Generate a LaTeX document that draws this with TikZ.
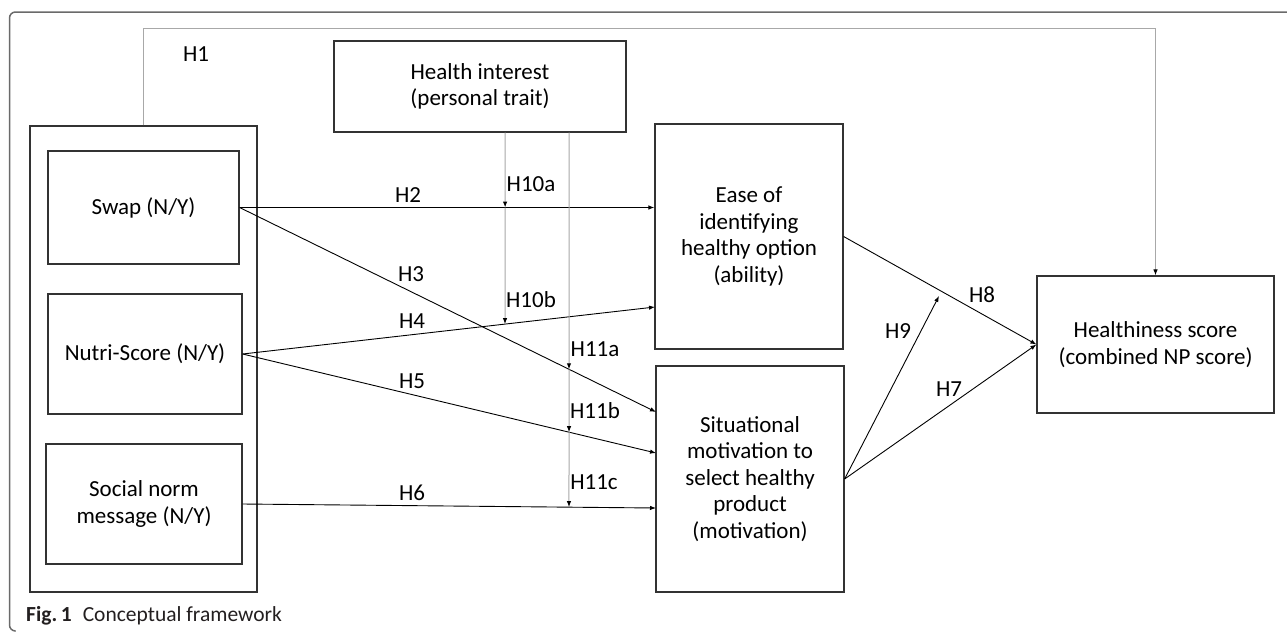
\documentclass[tikz,border=0pt]{standalone}
\usepackage{fontspec}
\setmainfont{Carlito}
\usetikzlibrary{arrows.meta,calc}
\definecolor{boxc}{HTML}{333333}
\definecolor{modc}{HTML}{A8A8A8}
\definecolor{framec}{HTML}{6A6A6A}
\definecolor{capc}{HTML}{231F20}
\begin{document}
\begin{tikzpicture}[x=1pt,y=-1pt,
  box/.style={draw=boxc,line width=1.2pt,inner sep=0pt,align=center,
    font=\fontsize{23}{26.5}\selectfont,text=black},
  conn/.style={draw=black,line width=0.9pt,-{Latex[length=6pt,width=4.5pt]}},
  modline/.style={draw=modc,line width=1pt,-{Latex[length=6pt,width=4.5pt,color=black]}},
  hlabel/.style={inner sep=0pt,font=\fontsize{23}{26.5}\selectfont,text=black}]
\useasboundingbox (0,0) rectangle (1287,632);
% outer frame
\draw[framec,line width=1.5pt,rounded corners=6pt] (1287,12) -- (9.5,12) -- (9.5,631) -- (15,631);
% boxes
\node[box,minimum width=227pt,minimum height=466pt] (big) at (143.5,359) {};
\node[box,minimum width=191pt,minimum height=113pt] (swap) at (143.5,207.5) {Swap (N/Y)};
\node[box,minimum width=194pt,minimum height=120pt] (nutri) at (145,354) {Nutri-Score (N/Y)};
\node[box,minimum width=196pt,minimum height=120pt] (social) at (144,504) {Social norm\\message (N/Y)};
\node[box,minimum width=292pt,minimum height=91pt] (hi) at (480,86.5) {Health interest\\(personal trait)};
\node[box,minimum width=188pt,minimum height=225pt] (ease) at (749,236.5) {Ease of\\identifying\\healthy option\\(ability)};
\node[box,minimum width=188pt,minimum height=226pt] (sit) at (750,479) {Situational\\motivation to\\select healthy\\product\\(motivation)};
\node[box,minimum width=237pt,minimum height=137pt] (hs) at (1155.5,344.5) {Healthiness score\\(combined NP score)};
% connector end points on box borders
\coordinate (e4) at (655,307);
\coordinate (s3) at (656,412);
\coordinate (s5) at (656,453);
\coordinate (s6) at (656,508);
\coordinate (h9end) at (939,296);
\coordinate (h1top) at (0,28);
% H1
\draw[modline] (big.north) -- (big.north |- h1top) -- (hs.north |- h1top) -- (hs.north);
% main connectors
\draw[conn] (swap.east) -- (swap.east -| ease.west);
\draw[conn] (swap.east) -- (s3);
\draw[conn] (nutri.east) -- (e4);
\draw[conn] (nutri.east) -- (s5);
\draw[conn] (social.east) -- (s6);
\draw[conn] (ease.east) -- (hs.west);
\draw[conn] (sit.east) -- (hs.west);
\draw[conn] (sit.east) -- (h9end);
% moderator lines
\coordinate (m1) at (505,132.5);
\coordinate (m1b) at (505,600);
\coordinate (m2) at (569,132.5);
\coordinate (m2b) at (569,600);
\coordinate (t10a) at (intersection cs: first line={(m1)--(m1b)}, second line={(swap.east)--(swap.east -| ease.west)});
\coordinate (t10b) at (intersection cs: first line={(m1)--(m1b)}, second line={(nutri.east)--(e4)});
\coordinate (t11a) at (intersection cs: first line={(m2)--(m2b)}, second line={(swap.east)--(s3)});
\coordinate (t11b) at (intersection cs: first line={(m2)--(m2b)}, second line={(nutri.east)--(s5)});
\coordinate (t11c) at (intersection cs: first line={(m2)--(m2b)}, second line={(social.east)--(s6)});
\draw[modline] (m1) -- (t10a);
\draw[modline] (t10a) -- (t10b);
\draw[modline] (m2) -- (t11a);
\draw[modline] (t11a) -- (t11b);
\draw[modline] (t11b) -- (t11c);
% labels
\node[hlabel] (lH1) at (196,54) {H1};
\node[hlabel] (lH2) at (408,195) {H2};
\node[hlabel] (lH3) at (411,274) {H3};
\node[hlabel] (lH4) at (412,321) {H4};
\node[hlabel] (lH5) at (412,381) {H5};
\node[hlabel] (lH6) at (412,493) {H6};
\node[hlabel] (lH10a) at (531,184) {H10a};
\node[hlabel] (lH10b) at (531,300) {H10b};
\node[hlabel] (lH11a) at (595,349) {H11a};
\node[hlabel] (lH11b) at (595,411) {H11b};
\node[hlabel] (lH11c) at (594,482) {H11c};
\node[hlabel] (lH8) at (982,295) {H8};
\node[hlabel] (lH9) at (898,331) {H9};
\node[hlabel] (lH7) at (949,389) {H7};
% caption
\node[anchor=base west,inner sep=0pt,font=\fontsize{21.5}{25}\selectfont,text=capc] (cap) at (26,621) {\textbf{Fig.\,1}\hspace{11pt}Conceptual framework};
\end{tikzpicture}
\end{document}
